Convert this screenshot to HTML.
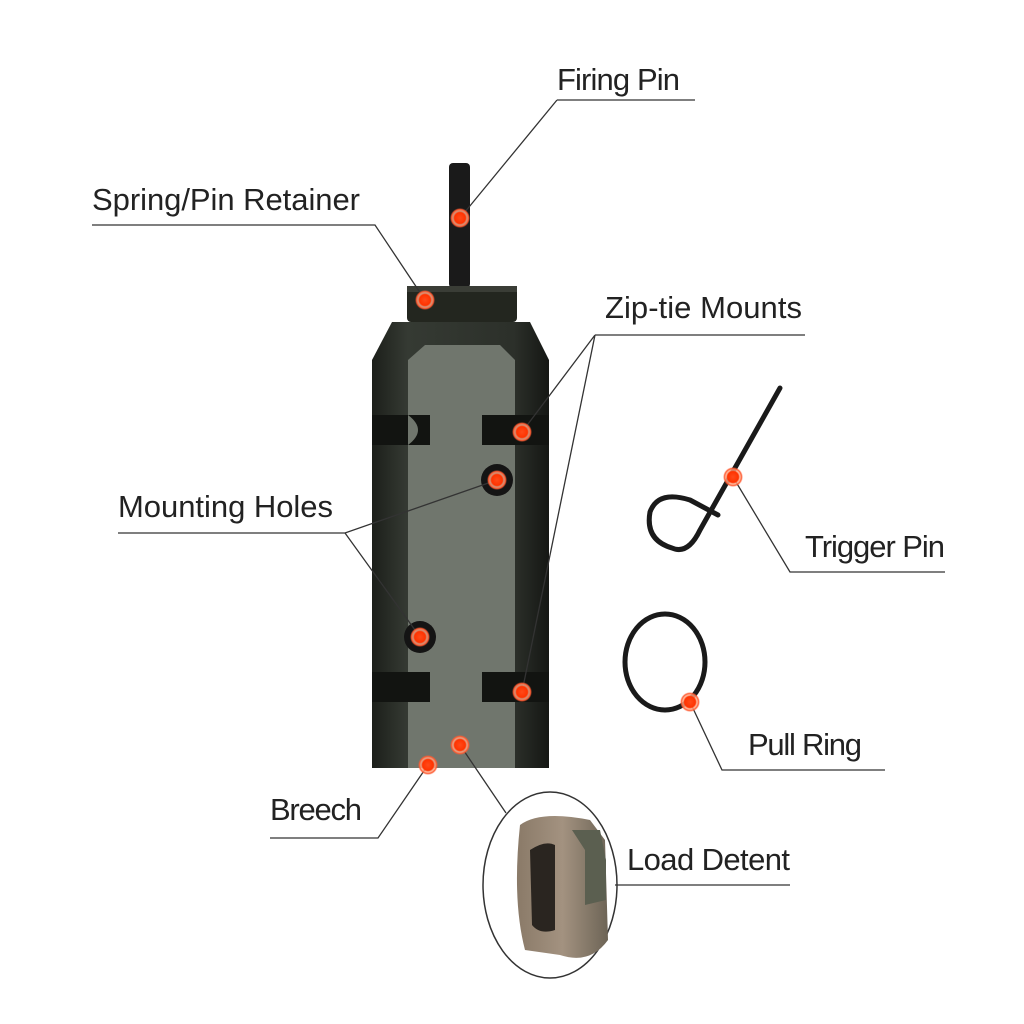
<!DOCTYPE html>
<html><head><meta charset="utf-8"><style>
html,body{margin:0;padding:0;background:#fff}
svg{display:block}
text{font-family:"Liberation Sans Narrow","Liberation Sans",sans-serif;font-size:31px;fill:#222}
</style></head><body>
<svg width="1024" height="1024" viewBox="0 0 1024 1024">
<defs>
<radialGradient id="dot"><stop offset="0" stop-color="#ff4a1a"/><stop offset="0.55" stop-color="#ff3300"/><stop offset="0.7" stop-color="#ffb090" stop-opacity="0.8"/><stop offset="0.85" stop-color="#ff5a30"/><stop offset="1" stop-color="#ff5a30" stop-opacity="0"/></radialGradient>
<linearGradient id="body" x1="0" x2="1"><stop offset="0" stop-color="#1c1f1a"/><stop offset="0.2" stop-color="#353a33"/><stop offset="0.8" stop-color="#2c302a"/><stop offset="1" stop-color="#151714"/></linearGradient>
<linearGradient id="brass" x1="0" x2="1"><stop offset="0" stop-color="#8a7a68"/><stop offset="0.5" stop-color="#a39280"/><stop offset="1" stop-color="#6d6456"/></linearGradient>
</defs>
<!-- firing pin -->
<rect x="449" y="163" width="21" height="125" rx="4" fill="#1a1a1a"/>
<!-- cap -->
<rect x="407" y="286" width="110" height="36" rx="4" fill="#23261f"/>
<rect x="407" y="286" width="110" height="6" fill="#3a3d36"/>
<!-- body -->
<path d="M392 322 L530 322 L549 360 L549 768 L372 768 L372 360 Z" fill="url(#body)"/>
<!-- face -->
<path d="M425 345 L500 345 L515 360 L515 768 L408 768 L408 360 Z" fill="#70766d"/>
<!-- grooves -->
<rect x="372" y="415" width="58" height="30" fill="#121411"/>
<rect x="482" y="415" width="67" height="30" fill="#121411"/>
<path d="M408 415 Q428 430 408 445 Z" fill="#70766d"/>
<rect x="372" y="672" width="58" height="30" fill="#121411"/>
<rect x="482" y="672" width="67" height="30" fill="#121411"/>
<!-- holes -->
<circle cx="497" cy="480" r="16" fill="#141414"/>
<circle cx="420" cy="637" r="16" fill="#141414"/>
<!-- trigger pin -->
<path d="M780 388 L700 530 Q688 555 672 548 Q645 540 650 512 Q658 490 690 500 L718 515" fill="none" stroke="#1a1a1a" stroke-width="5" stroke-linecap="round"/>
<!-- pull ring -->
<ellipse cx="665" cy="662" rx="40" ry="48" fill="none" stroke="#1a1a1a" stroke-width="5"/>
<!-- load detent -->
<ellipse cx="550" cy="885" rx="67" ry="93" fill="#fff" stroke="#333" stroke-width="1.5"/>
<path d="M520 825 Q540 810 590 820 L605 840 L608 940 Q590 965 560 955 L525 950 Q512 900 520 825 Z" fill="url(#brass)"/>
<path d="M530 850 Q545 840 555 845 L555 930 Q540 935 532 925 Z" fill="#2a2520"/>
<path d="M572 830 L600 830 L606 860 L606 900 L585 905 L585 850 Z" fill="#5b5f50"/>
<!-- leader lines -->
<g stroke="#333" stroke-width="1.3" fill="none">
<path d="M557 100 L695 100 M557 100 L460 218"/>
<path d="M92 225 L375 225 L425 300"/>
<path d="M595 335 L805 335 M595 335 L522 432 M595 335 L522 692"/>
<path d="M118 533 L345 533 L497 480 M345 533 L420 637"/>
<path d="M945 572 L790 572 L733 477"/>
<path d="M885 770 L722 770 L690 702"/>
<path d="M270 838 L378 838 L428 765"/>
<path d="M460 745 L506 813"/>
<path d="M790 885 L615 885"/>
</g>
<!-- dots -->
<g fill="url(#dot)">
<circle cx="460" cy="218" r="10"/><circle cx="425" cy="300" r="10"/>
<circle cx="522" cy="432" r="10"/><circle cx="497" cy="480" r="10"/>
<circle cx="420" cy="637" r="10"/><circle cx="522" cy="692" r="10"/>
<circle cx="460" cy="745" r="10"/><circle cx="428" cy="765" r="10"/>
<circle cx="733" cy="477" r="10"/><circle cx="690" cy="702" r="10"/>
</g>
<text x="557" y="90" textLength="123">Firing Pin</text>
<text x="92" y="210" textLength="268">Spring/Pin Retainer</text>
<text x="605" y="318" textLength="197">Zip-tie Mounts</text>
<text x="118" y="517" textLength="215">Mounting Holes</text>
<text x="805" y="557" textLength="140">Trigger Pin</text>
<text x="748" y="755" textLength="114">Pull Ring</text>
<text x="270" y="820" textLength="92">Breech</text>
<text x="627" y="870" textLength="163">Load Detent</text>
</svg>
</body></html>
